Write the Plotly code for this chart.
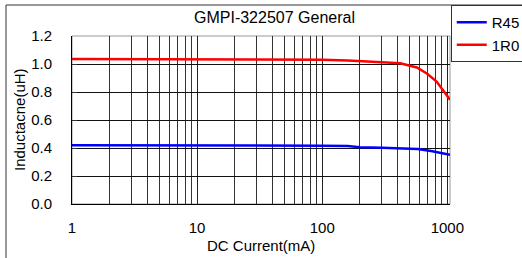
import plotly.graph_objects as go

# Data
r45_x = [1, 2, 5, 10, 20, 50, 100, 160, 200, 300, 400, 580, 740, 1050]
r45_y = [0.42, 0.42, 0.42, 0.42, 0.418, 0.416, 0.416, 0.414, 0.405, 0.402, 0.398, 0.392, 0.378, 0.352]
r1r0_x = [1, 2, 5, 10, 20, 50, 100, 160, 250, 300, 420, 570, 690, 820, 920, 1050]
r1r0_y = [1.035, 1.035, 1.035, 1.035, 1.033, 1.03, 1.03, 1.025, 1.02, 1.013, 1.005, 0.975, 0.93, 0.875, 0.815, 0.745]

x_major = [1, 10, 100, 1000]
x_labels = ["1", "10", "100", "1000"]
x_minor = [m * d for d in (1, 10, 100) for m in range(2, 10)]
y_ticks = [0.0, 0.2, 0.4, 0.6, 0.8, 1.0, 1.2]
y_labels = ["0.0", "0.2", "0.4", "0.6", "0.8", "1.0", "1.2"]

FONT = "Liberation Sans, Arial, sans-serif"

fig = go.Figure()
fig.add_trace(go.Scatter(x=r45_x, y=r45_y, mode="lines", name="R45",
                         line=dict(color="#0000FF", width=2.5)))
fig.add_trace(go.Scatter(x=r1r0_x, y=r1r0_y, mode="lines", name="1R0",
                         line=dict(color="#FF0000", width=2.5)))

fig.update_layout(
    width=522, height=258,
    margin=dict(l=72, r=72, t=36, b=54, autoexpand=False),
    paper_bgcolor="white", plot_bgcolor="white",
    font=dict(family=FONT, size=15, color="#000"),
    showlegend=True,
    legend=dict(x=1.002, y=1.1845, xanchor="left", yanchor="top",
                bordercolor="#333", borderwidth=1, bgcolor="white",
                font=dict(size=15), itemwidth=30, tracegroupgap=0),
    xaxis=dict(type="log", range=[0, 3.021],
               tickvals=x_major, ticktext=x_labels,
               showgrid=True, gridcolor="#222", gridwidth=1,
               minor=dict(tickvals=x_minor, showgrid=True, gridcolor="#333", gridwidth=1, ticks=""),
               showline=True, linecolor="#000", linewidth=1,
               ticks="", ticklabelstandoff=10, zeroline=False),
    yaxis=dict(range=[0, 1.2], tickvals=y_ticks, ticktext=y_labels,
               showgrid=True, gridcolor="#111", gridwidth=1,
               showline=True, linecolor="#000", linewidth=1,
               ticks="inside", ticklen=5, tickcolor="#333",
               ticklabelstandoff=16, zeroline=False),
)

# top and right frame of plot area (grey)
fig.add_shape(type="rect", xref="paper", yref="paper", x0=0, x1=1, y0=0, y1=1,
              line=dict(color="#999", width=1), layer="below")

# outer chart frame
fig.add_shape(type="rect", xref="paper", yref="paper",
              x0=(6 - 72) / 378, x1=1.3, y0=-0.5, y1=(204 - 5) / 168,
              line=dict(color="#333", width=1))

fig.add_annotation(text="GMPI-322507 General", xref="paper", yref="paper",
                   x=0.537, y=(204 - 18) / 168, showarrow=False,
                   font=dict(size=16), xanchor="center", yanchor="middle")
fig.add_annotation(text="DC Current(mA)", xref="paper", yref="paper",
                   x=0.5, y=(204 - 245) / 168, showarrow=False,
                   font=dict(size=15), xanchor="center", yanchor="middle")
fig.add_annotation(text="Inductacne(uH)", xref="paper", yref="paper",
                   x=(19 - 72) / 378, y=0.5, showarrow=False, textangle=-90,
                   font=dict(size=15), xanchor="center", yanchor="middle")

fig.write_html("out.html", config={"displayModeBar": False},
               post_script="document.body.style.margin='0';document.body.style.padding='0';")
